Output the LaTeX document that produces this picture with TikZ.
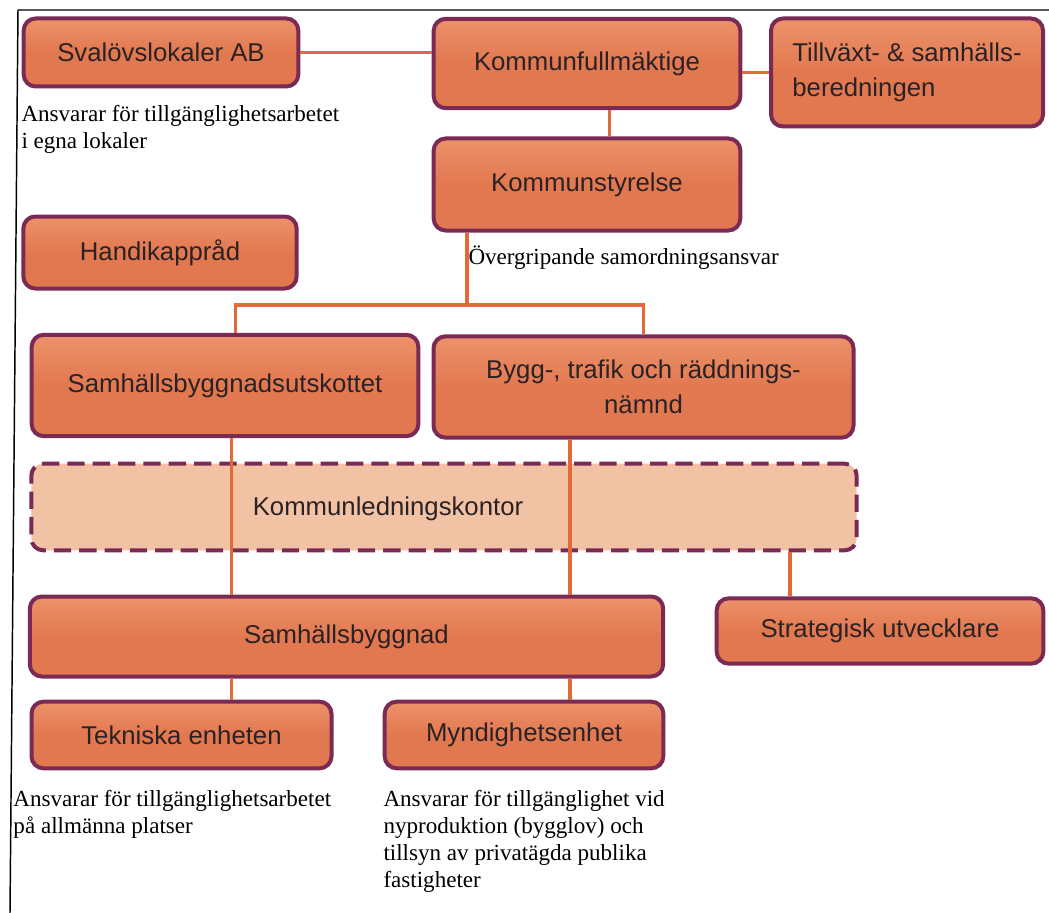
\documentclass[tikz,border=0pt]{standalone}
\usepackage{fontspec}
\setmainfont{Liberation Serif}
\setsansfont{Liberation Sans}
\definecolor{boxline}{RGB}{122,42,84}
\definecolor{boxfill}{RGB}{226,120,80}
\definecolor{boxtop}{RGB}{236,146,106}
\definecolor{softfill}{RGB}{241,194,164}
\definecolor{connline}{RGB}{226,106,58}
\definecolor{boxtext}{RGB}{42,34,36}

\tikzset{every picture/.style={line width=0.75pt}}
\tikzset{
  orgbox/.style={draw=boxline, line width=3pt, rounded corners=9pt,
    top color=boxtop, bottom color=boxfill, middle color=boxfill,
    font=\sffamily\fontsize{19.3}{26.5}\selectfont, text=boxtext,
    align=center, inner sep=0pt},
  dashbox/.style={draw=boxline, line width=3pt, dash pattern=on 13pt off 6pt,
    rounded corners=9pt, fill=softfill, inner sep=0pt},
  conn/.style={draw=connline, line width=2.6pt},
  desc/.style={font=\fontsize{17.3}{20.2}\selectfont, align=left, inner sep=0pt, anchor=north west}
}

\begin{document}
\begin{tikzpicture}[x=0.75pt,y=0.75pt,yscale=-1,xscale=1]
	\useasboundingbox (0,0) rectangle (1049,913);

	%Frame
	\draw [line width=1.1pt] (10,913) -- (18,10) -- (1049,10) ;

	%Shape: Kommunledningskontor
	\node [dashbox, minimum width=619pt, minimum height=65pt] (klk) at (444,507) {};
	% Text Node
	\node [font=\sffamily\fontsize{19.3}{26.5}\selectfont, text=boxtext] (klktext) at (388,509) {Kommunledningskontor};

	%Shape: top row
	\node [orgbox, minimum width=206pt, minimum height=51pt] (sval) at (161,52.5) {Svalövslokaler AB};
	\node [orgbox, minimum width=230pt, minimum height=67pt] (kf) at (587,63.5) {\raisebox{4pt}{Kommunfullmäktige}};
	\node [orgbox, minimum width=204pt, minimum height=81pt, align=left] (tvx) at (907,72.5) {Tillväxt- \& samhälls-\\beredningen};
	\node [orgbox, minimum width=230pt, minimum height=69pt] (ks) at (587,184.5) {\raisebox{2pt}{Kommunstyrelse}};
	\node [orgbox, minimum width=205pt, minimum height=54pt] (hk) at (160,252.5) {Handikappråd};

	%Shape: middle row
	\node [orgbox, minimum width=290pt, minimum height=76pt] (sbu) at (225,385.5) {\raisebox{3pt}{Samhällsbyggnadsutskottet}};
	\node [orgbox, minimum width=315pt, minimum height=76pt] (btr) at (643.5,387) {Bygg-, trafik och räddnings-\\nämnd};

	%Shape: lower rows
	\node [orgbox, minimum width=475pt, minimum height=60pt] (sbn) at (346.5,636.5) {Samhällsbyggnad};
	\node [orgbox, minimum width=245pt, minimum height=49pt] (su) at (880,631) {Strategisk utvecklare};
	\node [orgbox, minimum width=225pt, minimum height=50pt] (tek) at (181.5,735) {Tekniska enheten};
	\node [orgbox, minimum width=209pt, minimum height=50pt] (myn) at (524,735) {Myndighetsenhet};

	%Straight Lines
	\draw [conn] (sval.east) -- (sval.east -| kf.west) ;
	\draw [conn] (tvx.west -| kf.east) -- (tvx.west) ;
	\draw [conn] ([xshift=17pt]kf.south) -- ([xshift=17pt]ks.north) ;
	\coordinate (bus) at (467,305) ;
	\draw [conn] ([xshift=-90pt]ks.south) -- (bus) ;
	\draw [conn] ([xshift=8pt]sbu.north) |- (btr.north |- bus) -- (btr.north) ;
	\draw [conn] ([xshift=5pt]sbu.south) -- ([xshift=5pt]sbu.south |- sbn.north) ;
	\draw [conn] ([xshift=-55pt]btr.south) -- ([xshift=-55pt]btr.south |- sbn.north) ;
	\draw [conn] ([xshift=259.5pt]klk.south) -- ([xshift=259.5pt]klk.south |- su.north) ;
	\draw [conn] ([xshift=5pt]sbu.south |- sbn.south) -- ([xshift=5pt]sbu.south |- tek.north) ;
	\draw [conn] ([xshift=-55pt]btr.south |- sbn.south) -- ([xshift=-55pt]btr.south |- myn.north) ;

	% Text Node
	\node [desc] (svaltext) at (21,105) {Ansvarar för tillgänglighetsarbetet\\i egna lokaler};
	% Text Node
	\node [desc, anchor=base west] (kstext) at (468,264) {Övergripande samordningsansvar};
	% Text Node
	\node [desc] (tektext) at (13,790) {Ansvarar för tillgänglighetsarbetet\\på allmänna platser};
	% Text Node
	\node [desc] (myntext) at (383,790) {Ansvarar för tillgänglighet vid\\nyproduktion (bygglov) och\\tillsyn av privatägda publika\\fastigheter};

\end{tikzpicture}
\end{document}
